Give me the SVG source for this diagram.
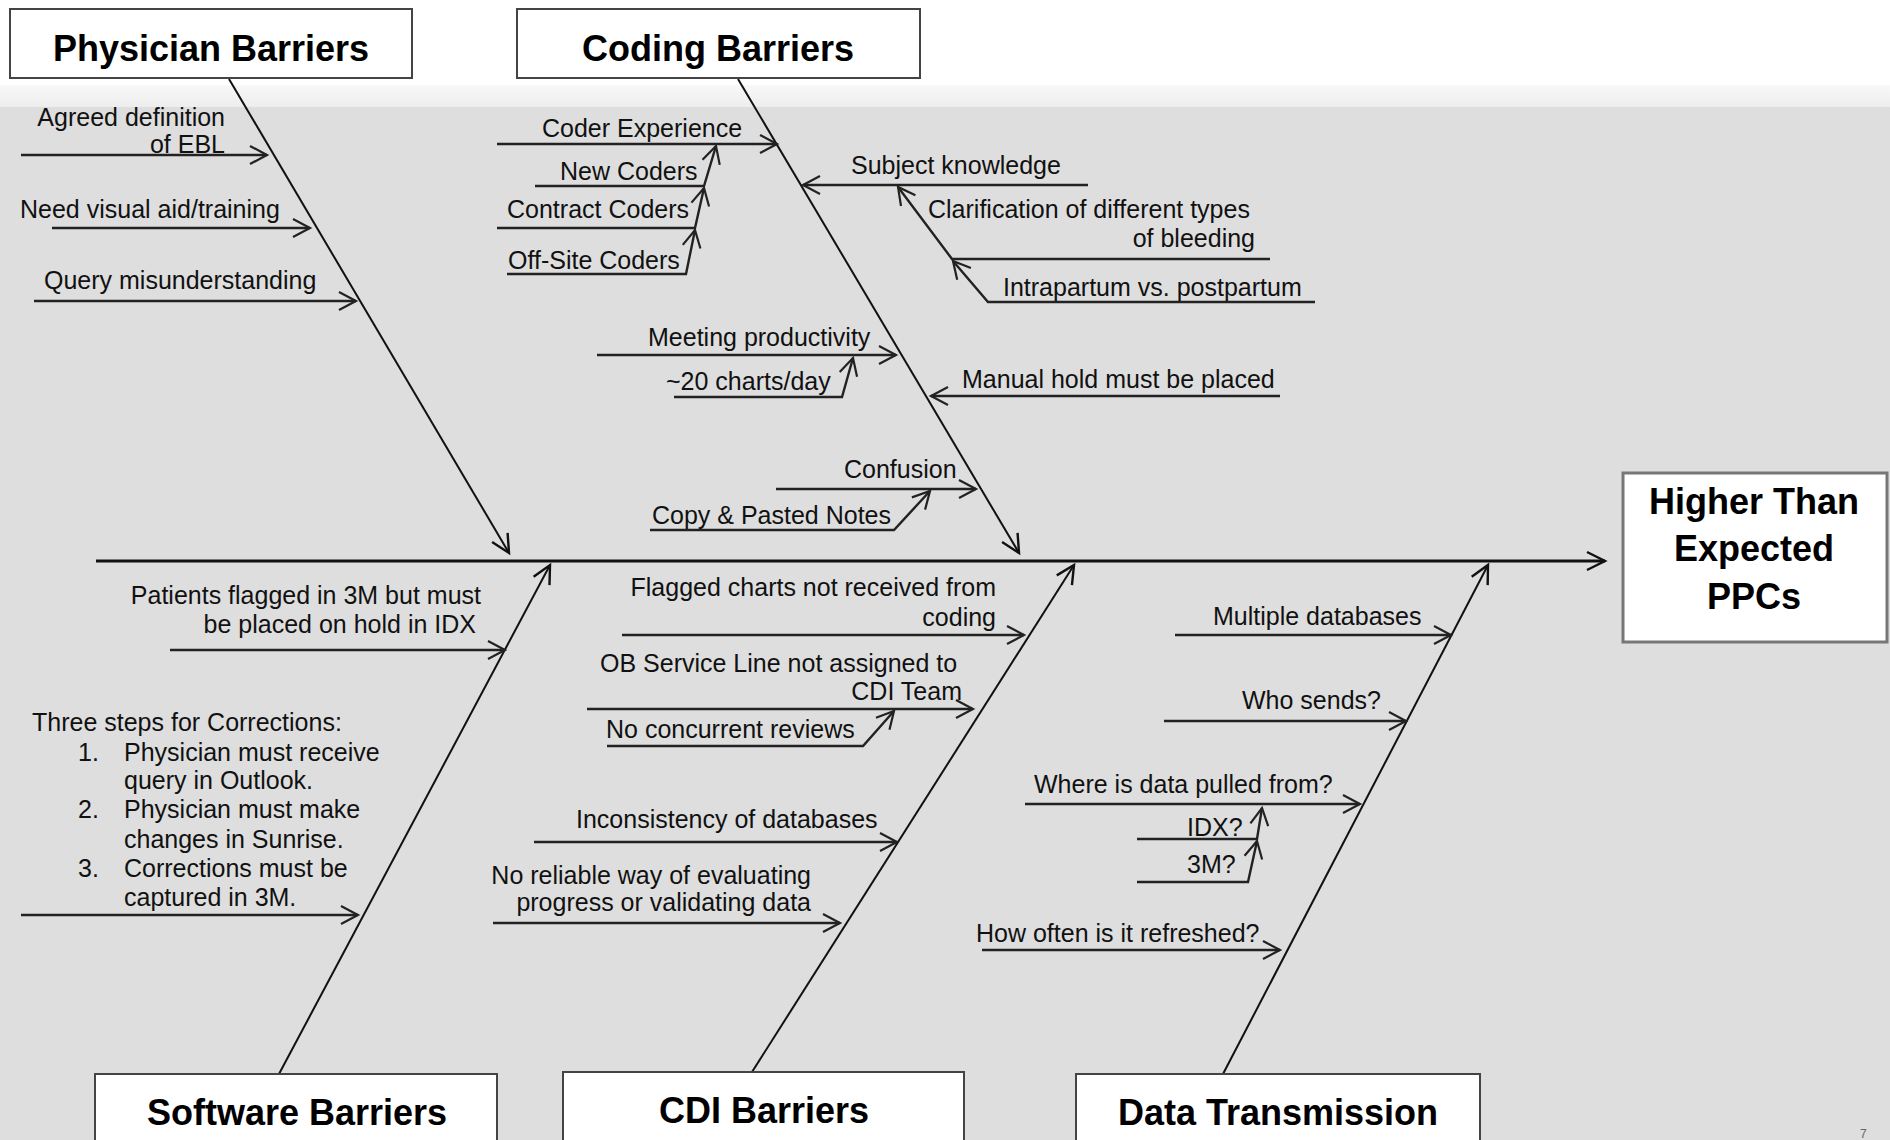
<svg xmlns="http://www.w3.org/2000/svg" width="1890" height="1140" viewBox="0 0 1890 1140">
<defs>
  <linearGradient id="band" x1="0" y1="0" x2="0" y2="1">
    <stop offset="0" stop-color="#f8f8f8"/>
    <stop offset="1" stop-color="#ededed"/>
  </linearGradient>
  <marker id="arr" markerUnits="userSpaceOnUse" markerWidth="24" markerHeight="24" refX="20" refY="11" orient="auto">
    <path d="M2,2 L20,11 L2,20" fill="none" stroke="#111" stroke-width="2.4"/>
  </marker>
  <marker id="arrS" markerUnits="userSpaceOnUse" markerWidth="24" markerHeight="24" refX="20" refY="11" orient="auto">
    <path d="M3,2 L20,11 L3,20" fill="none" stroke="#222" stroke-width="2.2"/>
  </marker>
</defs>
<style>
  .box { fill: #ffffff; stroke: #444; stroke-width: 2; }
  .boxp { fill: #ffffff; stroke: #777; stroke-width: 3; }
  .hd { font-family: "Liberation Sans", Arial, sans-serif; font-weight: bold; font-size: 36px; fill: #000; text-anchor: middle; }
  .t { font-family: "Liberation Sans", Arial, sans-serif; font-size: 25px; fill: #111; }
  .e { text-anchor: end; }
  .bone { fill: none; stroke: #111; stroke-width: 2; marker-end: url(#arr); }
  .spine { fill: none; stroke: #111; stroke-width: 3; marker-end: url(#arr); }
  .sub { fill: none; stroke: #222; stroke-width: 2.4; marker-end: url(#arrS); }
</style>

<!-- background -->
<rect x="0" y="0" width="1890" height="1140" fill="#ffffff"/>
<rect x="0" y="85" width="1890" height="22" fill="url(#band)"/>
<rect x="0" y="107" width="1890" height="1033" fill="#dedede"/>

<!-- connectors -->
<g id="connectors">
  <path class="spine" d="M96,561 L1605,561"/>
  <path class="bone" d="M229,79 L509,553"/>
  <path class="bone" d="M738,79 L1019,553"/>
  <path class="bone" d="M279,1074 L550,565"/>
  <path class="bone" d="M752,1072 L1074,565"/>
  <path class="bone" d="M1223,1074 L1488,565"/>

  <!-- physician -->
  <path class="sub" d="M21,155 L267,155"/>
  <path class="sub" d="M52,228 L310,228"/>
  <path class="sub" d="M34,301 L356,301"/>
  <!-- coding -->
  <path class="sub" d="M497,144 L777,144"/>
  <path class="sub" d="M535,186 L704,186 L716,146"/>
  <path class="sub" d="M497,228 L695,228 L704,188"/>
  <path class="sub" d="M507,274 L686,274 L695,230"/>
  <path class="sub" d="M1088,185 L803,185"/>
  <path class="sub" d="M1270,259 L952,259 L898,187"/>
  <path class="sub" d="M1315,302 L988,302 L953,261"/>
  <path class="sub" d="M597,355 L896,355"/>
  <path class="sub" d="M674,397 L842,397 L853,358"/>
  <path class="sub" d="M1280,396 L931,396"/>
  <path class="sub" d="M776,489 L976,489"/>
  <path class="sub" d="M650,530 L894,530 L930,491"/>
  <!-- software -->
  <path class="sub" d="M170,650 L505,650"/>
  <path class="sub" d="M21,915 L358,915"/>
  <!-- CDI -->
  <path class="sub" d="M622,635 L1024,635"/>
  <path class="sub" d="M587,709 L973,709"/>
  <path class="sub" d="M607,746 L863,746 L894,711"/>
  <path class="sub" d="M534,842 L897,842"/>
  <path class="sub" d="M493,923 L840,923"/>
  <!-- data -->
  <path class="sub" d="M1175,635 L1451,635"/>
  <path class="sub" d="M1164,721 L1406,721"/>
  <path class="sub" d="M1025,804 L1360,804"/>
  <path class="sub" d="M1137,839 L1257,839 L1262,808"/>
  <path class="sub" d="M1137,882 L1248,882 L1257,841"/>
  <path class="sub" d="M982,950 L1280,950"/>
</g>

<!-- nodes -->
<g id="physician-barriers">
  <rect class="box" x="10" y="9" width="402" height="69"/>
  <text class="hd" x="211" y="61">Physician Barriers</text>
</g>
<g id="coding-barriers">
  <rect class="box" x="517" y="9" width="403" height="69"/>
  <text class="hd" x="718" y="61">Coding Barriers</text>
</g>
<g id="software-barriers">
  <rect class="box" x="95" y="1074" width="402" height="80"/>
  <text class="hd" x="297" y="1125">Software Barriers</text>
</g>
<g id="cdi-barriers">
  <rect class="box" x="563" y="1072" width="401" height="80"/>
  <text class="hd" x="764" y="1123">CDI Barriers</text>
</g>
<g id="data-transmission">
  <rect class="box" x="1076" y="1074" width="404" height="80"/>
  <text class="hd" x="1278" y="1125">Data Transmission</text>
</g>
<g id="effect">
  <rect class="boxp" x="1623" y="473" width="264" height="169"/>
  <text class="hd" x="1754" y="514">Higher Than</text>
  <text class="hd" x="1754" y="561">Expected</text>
  <text class="hd" x="1754" y="609">PPCs</text>
</g>

<!-- cause labels -->
<g id="physician-causes">
  <text class="t e" x="225" y="126">Agreed definition</text>
  <text class="t e" x="225" y="153">of EBL</text>
  <text class="t" x="20" y="218">Need visual aid/training</text>
  <text class="t" x="44" y="289">Query misunderstanding</text>
</g>
<g id="coding-causes">
  <text class="t" x="542" y="137">Coder Experience</text>
  <text class="t" x="560" y="180">New Coders</text>
  <text class="t" x="507" y="218">Contract Coders</text>
  <text class="t" x="508" y="269">Off-Site Coders</text>
  <text class="t" x="851" y="174">Subject knowledge</text>
  <text class="t" x="928" y="218">Clarification of different types</text>
  <text class="t e" x="1255" y="247">of bleeding</text>
  <text class="t" x="1003" y="296">Intrapartum vs. postpartum</text>
  <text class="t" x="648" y="346">Meeting productivity</text>
  <text class="t" x="666" y="390">~20 charts/day</text>
  <text class="t" x="962" y="388">Manual hold must be placed</text>
  <text class="t" x="844" y="478">Confusion</text>
  <text class="t" x="652" y="524">Copy &amp; Pasted Notes</text>
</g>
<g id="software-causes">
  <text class="t e" x="481" y="604">Patients flagged in 3M but must</text>
  <text class="t e" x="476" y="633">be placed on hold in IDX</text>
  <text class="t" x="32" y="731">Three steps for Corrections:</text>
  <text class="t" x="78" y="761">1.</text>
  <text class="t" x="124" y="761">Physician must receive</text>
  <text class="t" x="124" y="789">query in Outlook.</text>
  <text class="t" x="78" y="818">2.</text>
  <text class="t" x="124" y="818">Physician must make</text>
  <text class="t" x="124" y="848">changes in Sunrise.</text>
  <text class="t" x="78" y="877">3.</text>
  <text class="t" x="124" y="877">Corrections must be</text>
  <text class="t" x="124" y="906">captured in 3M.</text>
</g>
<g id="cdi-causes">
  <text class="t e" x="996" y="596">Flagged charts not received from</text>
  <text class="t e" x="996" y="626">coding</text>
  <text class="t" x="600" y="672">OB Service Line not assigned to</text>
  <text class="t e" x="962" y="700">CDI Team</text>
  <text class="t" x="606" y="738">No concurrent reviews</text>
  <text class="t" x="576" y="828">Inconsistency of databases</text>
  <text class="t e" x="811" y="884">No reliable way of evaluating</text>
  <text class="t e" x="811" y="911">progress or validating data</text>
</g>
<g id="data-causes">
  <text class="t" x="1213" y="625">Multiple databases</text>
  <text class="t" x="1242" y="709">Who sends?</text>
  <text class="t" x="1034" y="793">Where is data pulled from?</text>
  <text class="t" x="1187" y="836">IDX?</text>
  <text class="t" x="1187" y="873">3M?</text>
  <text class="t" x="976" y="942">How often is it refreshed?</text>
</g>
<text x="1860" y="1138" font-family="Liberation Sans, sans-serif" font-size="12" fill="#666">7</text>
</svg>
